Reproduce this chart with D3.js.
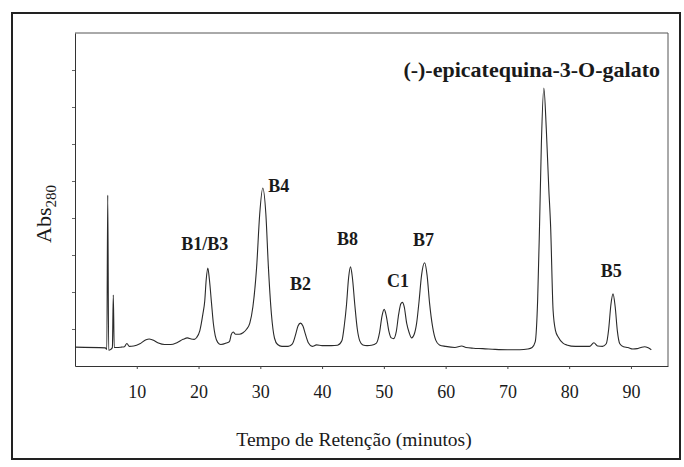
<!DOCTYPE html>
<html>
<head>
<meta charset="utf-8">
<script src="https://cdn.jsdelivr.net/npm/d3@7"></script>
<style>
  html, body { margin: 0; padding: 0; background: #fff; }
  svg { display: block; }
  svg text { font-family: "Liberation Serif", "Times New Roman", serif; fill: #1a1a1a; }
</style>
</head>
<body>
<svg id="chart" width="684" height="467"></svg>
<script>
// Retention time (min) of each trace point
const traceTime = [
  0, 4.9, 5.15, 5.3, 5.45, 5.8, 6.05, 6.2, 6.35, 6.7,
  7.5, 8.0, 8.4, 8.8, 9.5, 10.5, 11.5, 12.0, 12.6, 13.5, 14.5, 15.5, 16.5, 17.5, 18.2, 18.8, 19.3,
  19.7, 20.2, 20.7, 21.0, 21.25, 21.5, 21.75, 22.1, 22.4, 22.7, 23.1, 23.6, 24.5,
  25.0, 25.3, 25.6, 26.0, 26.6, 27.2, 27.8, 28.3, 28.8, 29.4, 29.9, 30.4, 30.9, 31.3, 31.8, 32.3, 32.8, 33.5,
  34.5, 35.2, 35.7, 36.1, 36.5, 36.9, 37.3, 37.8, 38.4, 39.1, 40.0, 41.5,
  42.5, 43.2, 43.6, 43.95, 44.3, 44.6, 44.9, 45.3, 45.7, 46.1, 46.6, 47.3,
  48.0, 48.8, 49.3, 49.7, 50.05, 50.4, 50.8, 51.2, 51.6, 52.0, 52.4, 52.75, 53.0, 53.3, 53.7, 54.1, 54.5,
  54.9, 55.3, 55.7, 56.1, 56.6, 57.0, 57.4, 57.9, 58.4, 59.0, 60.0, 61.5, 62.6, 63.3, 64.5, 66, 68, 70, 72, 73.3,
  74.0, 74.5, 74.9, 75.2, 75.5, 75.9, 76.3, 76.7, 77.0, 77.4, 77.8, 78.2, 79.0, 79.6, 81.0, 82.5,
  83.3, 84.0, 84.6, 85.4, 86.0, 86.4, 86.75, 87.1, 87.45, 87.8, 88.2, 88.8, 89.5, 90.3, 91.0, 91.6, 92.2, 92.8, 93.3
];
// Absorbance at 280 nm (arbitrary units) for each point above
const traceAbs = [
  0.051, 0.049, 0.045, 0.462, 0.043, 0.045, 0.050, 0.192, 0.050, 0.050,
  0.051, 0.052, 0.061, 0.053, 0.054, 0.060, 0.071, 0.073, 0.070, 0.062, 0.058, 0.058, 0.063, 0.072, 0.076, 0.073, 0.072,
  0.077, 0.095, 0.140, 0.175, 0.235, 0.265, 0.235, 0.170, 0.115, 0.082, 0.064, 0.058, 0.062,
  0.066, 0.085, 0.092, 0.086, 0.086, 0.090, 0.100, 0.116, 0.160, 0.266, 0.410, 0.481, 0.410, 0.270, 0.140, 0.075, 0.058, 0.053,
  0.053, 0.060, 0.084, 0.108, 0.116, 0.108, 0.086, 0.062, 0.053, 0.057, 0.055, 0.055,
  0.056, 0.068, 0.110, 0.165, 0.240, 0.268, 0.240, 0.165, 0.100, 0.068, 0.057, 0.055,
  0.056, 0.062, 0.090, 0.135, 0.153, 0.135, 0.095, 0.076, 0.074, 0.092, 0.140, 0.168, 0.172, 0.160, 0.115, 0.090, 0.076,
  0.085, 0.115, 0.175, 0.245, 0.279, 0.245, 0.170, 0.105, 0.070, 0.057, 0.053, 0.050, 0.054, 0.050, 0.048, 0.047, 0.045, 0.044, 0.044, 0.046,
  0.050, 0.065, 0.180, 0.376, 0.600, 0.751, 0.640, 0.480, 0.376, 0.150, 0.095, 0.079, 0.062, 0.057, 0.053, 0.053,
  0.053, 0.063, 0.054, 0.053, 0.060, 0.100, 0.165, 0.195, 0.160, 0.095, 0.060, 0.052, 0.050, 0.046, 0.047, 0.050, 0.052, 0.049, 0.044
];
// Peak labels and where they sit (time, abs of label baseline)
const peakNames = ["B1/B3", "B4", "B2", "B8", "C1", "B7", "B5"];
const peakLabelTime = [21.0, 33.0, 36.5, 44.1, 52.3, 56.4, 86.8];
const peakLabelAbs = [0.314, 0.470, 0.205, 0.327, 0.214, 0.324, 0.241];
const mainPeakName = "(-)-epicatequina-3-O-galato";
const xTicks = [10, 20, 30, 40, 50, 60, 70, 80, 90];
const yTicks = [0.1, 0.2, 0.3, 0.4, 0.5, 0.6, 0.7, 0.8];
const xTitle = "Tempo de Retenção (minutos)";

const svg = d3.select("#chart").attr("font-family", "Liberation Serif, serif");
const mLeft = 75, mRight = 668, mTop = 33, mBottom = 366;

const x = d3.scaleLinear().domain([0, 96]).range([mLeft, mRight]);
const y = d3.scaleLinear().domain([0, 0.9]).range([mBottom, mTop]);

// outer frame
svg.append("rect").attr("x", 12).attr("y", 13).attr("width", 668).attr("height", 446)
  .attr("fill", "none").attr("stroke", "#222").attr("stroke-width", 2);

// plot box (top + right)
svg.append("path")
  .attr("d", `M${mLeft},${mTop}H${mRight}V${mBottom}`)
  .attr("fill", "none").attr("stroke", "#555").attr("stroke-width", 1);

// x axis
const gx = svg.append("g").attr("transform", `translate(0,${mBottom})`)
  .call(d3.axisBottom(x).tickValues(xTicks).tickSize(3).tickSizeOuter(0).tickPadding(16));
gx.attr("font-family", null).attr("font-size", null);
gx.select(".domain").attr("stroke", "#333");
gx.selectAll(".tick line").attr("stroke", "#444");
gx.selectAll(".tick text").attr("font-size", 18).attr("fill", "#1a1a1a");

// y axis
const gy = svg.append("g").attr("transform", `translate(${mLeft},0)`)
  .call(d3.axisLeft(y).tickValues(yTicks).tickSize(3).tickSizeOuter(0).tickFormat(""));
gy.select(".domain").attr("stroke", "#333");
gy.selectAll(".tick line").attr("stroke", "#666");

// trace
const pts = traceTime.map((t, i) => [t, traceAbs[i]]);
svg.append("path")
  .datum(pts)
  .attr("fill", "none")
  .attr("stroke", "#2a2a2a")
  .attr("stroke-width", 1.1)
  .attr("d", d3.line().x(d => x(d[0])).y(d => y(d[1])).curve(d3.curveMonotoneX));

// peak labels
svg.append("g").selectAll("text").data(peakNames).join("text")
  .attr("x", (d, i) => x(peakLabelTime[i]))
  .attr("y", (d, i) => y(peakLabelAbs[i]))
  .attr("text-anchor", "middle")
  .attr("font-size", 18).attr("font-weight", "bold")
  .text(d => d);

svg.append("text")
  .attr("x", 660).attr("y", 77)
  .attr("text-anchor", "end")
  .attr("font-size", 22).attr("font-weight", "bold")
  .text(mainPeakName);

// axis titles
svg.append("text")
  .attr("x", 354).attr("y", 446)
  .attr("text-anchor", "middle").attr("font-size", 19.5)
  .text(xTitle);

const yt = svg.append("text")
  .attr("transform", "translate(51,214) rotate(-90)")
  .attr("text-anchor", "middle");
yt.append("tspan").attr("font-size", 22).text("Abs");
yt.append("tspan").attr("font-size", 15).attr("dy", 5).text("280");
</script>
</body>
</html>
